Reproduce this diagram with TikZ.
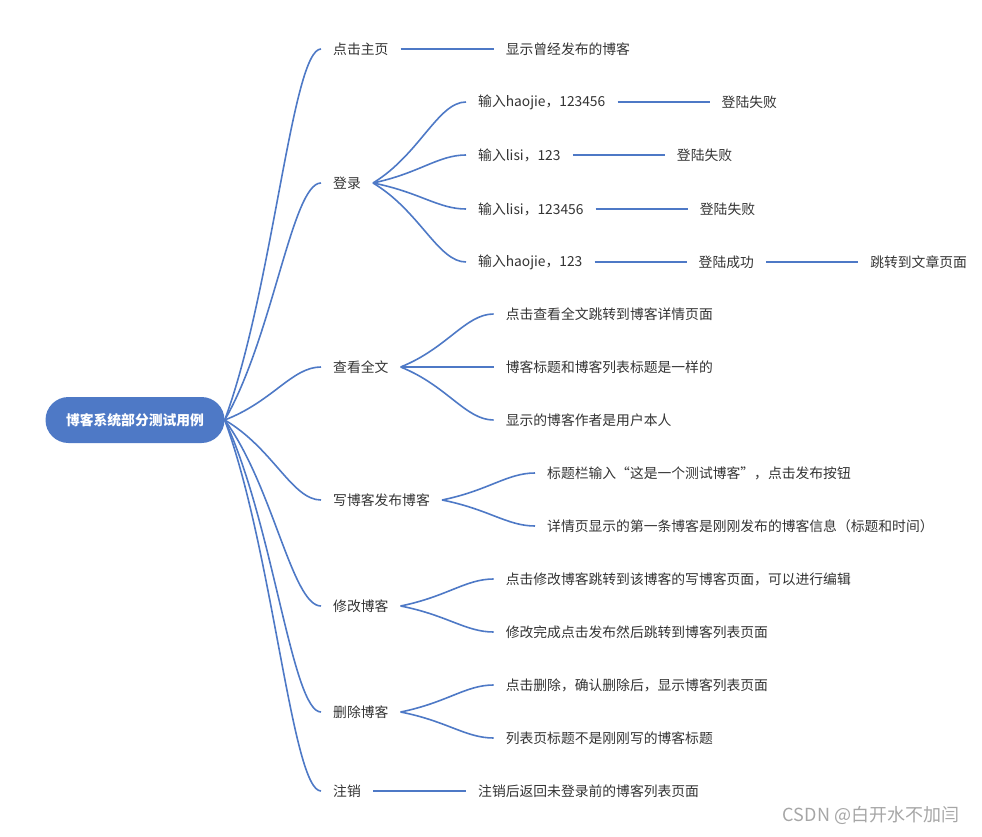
\documentclass[tikz,border=0pt]{standalone}
\usepackage{fontspec}
\setmainfont{Noto Sans CJK SC}
\usetikzlibrary{positioning,calc}
\definecolor{lanse}{HTML}{4E79C6}
\definecolor{wenzi}{HTML}{333333}
\tikzset{
  item/.style={anchor=west,inner xsep=12pt,inner ysep=3pt,text=wenzi,
               font=\fontsize{13.8}{16}\selectfont},
  zhuti/.style={fill=lanse,text=white,rounded corners=23pt,minimum width=179pt,
                minimum height=46pt,font=\fontsize{13.8}{16}\selectfont\bfseries},
  lian/.style={draw=lanse,line width=1.6pt},
  fenzhi/.style={to path={let \p1=(\tikztostart),\p2=(\tikztotarget) in
      .. controls ({0.5*\x1+0.5*\x2},{0.65*\y1+0.35*\y2})
         and ({0.3*\x1+0.7*\x2},\y2) .. (\tikztotarget)}}
}

\begin{document}
\begin{tikzpicture}[x=1pt,y=-1pt]
  \useasboundingbox (0,0) rectangle (982,837);
  \node[zhuti] (root) at (135,420) {博客系统部分测试用例};
  % first level
  \node[item] (zhuye)   at (321,49)  {点击主页};
  \node[item] (denglu)  at (321,183) {登录};
  \node[item] (quanwen) at (321,367) {查看全文};
  \node[item] (xieboke) at (321,500) {写博客发布博客};
  \node[item] (xiugai)  at (321,606) {修改博客};
  \node[item] (shanchu) at (321,712) {删除博客};
  \node[item] (zhuxiao) at (321,791) {注销};
  % second level
  \node[item,right=93pt of zhuye] (zhuyeA) {显示曾经发布的博客};
  \node[item,right=93pt of denglu,yshift=81pt]  (dlA) {输入haojie，123456};
  \node[item,right=93pt of denglu,yshift=28pt]  (dlB) {输入lisi，123};
  \node[item,right=93pt of denglu,yshift=-26pt] (dlC) {输入lisi，123456};
  \node[item,right=93pt of denglu,yshift=-79pt] (dlD) {输入haojie，123};
  \node[item,right=92pt of dlA] (dlA1) {登陆失败};
  \node[item,right=92pt of dlB] (dlB1) {登陆失败};
  \node[item,right=92pt of dlC] (dlC1) {登陆失败};
  \node[item,right=92pt of dlD] (dlD1) {登陆成功};
  \node[item,right=92pt of dlD1] (dlD2) {跳转到文章页面};
  \node[item,right=93pt of quanwen,yshift=53pt]  (qwA) {点击查看全文跳转到博客详情页面};
  \node[item,right=93pt of quanwen]              (qwB) {博客标题和博客列表标题是一样的};
  \node[item,right=93pt of quanwen,yshift=-53pt] (qwC) {显示的博客作者是用户本人};
  \node[item,right=93pt of xieboke,yshift=27pt]  (xbA) {标题栏输入“这是一个测试博客”，点击发布按钮};
  \node[item,right=93pt of xieboke,yshift=-26pt] (xbB) {详情页显示的第一条博客是刚刚发布的博客信息（标题和时间）};
  \node[item,right=93pt of xiugai,yshift=27pt]   (xgA) {点击修改博客跳转到该博客的写博客页面，可以进行编辑};
  \node[item,right=93pt of xiugai,yshift=-26pt]  (xgB) {修改完成点击发布然后跳转到博客列表页面};
  \node[item,right=93pt of shanchu,yshift=27pt]  (scA) {点击删除，确认删除后，显示博客列表页面};
  \node[item,right=93pt of shanchu,yshift=-26pt] (scB) {列表页标题不是刚刚写的博客标题};
  \node[item,right=93pt of zhuxiao] (zxA) {注销后返回未登录前的博客列表页面};
  \node[text=gray!70,font=\fontsize{18}{20}\selectfont] (shuiyin) at (871,815)
    {CSDN @白开水不加闫};
  % connectors
  \foreach \k in {zhuye,denglu,quanwen,xieboke,xiugai,shanchu,zhuxiao}
    \draw[lian] (root.east) to[fenzhi] (\k.west);
  \foreach \a/\b in {denglu/dlA,denglu/dlB,denglu/dlC,denglu/dlD,
                     quanwen/qwA,quanwen/qwB,quanwen/qwC,xieboke/xbA,xieboke/xbB,
                     xiugai/xgA,xiugai/xgB,shanchu/scA,shanchu/scB}
    \draw[lian] (\a.east) to[fenzhi] (\b.west);
  \foreach \a/\b in {zhuye/zhuyeA,dlA/dlA1,dlB/dlB1,dlC/dlC1,dlD/dlD1,dlD1/dlD2,zhuxiao/zxA}
    \draw[lian] (\a.east) -- (\b.west);
\end{tikzpicture}
\end{document}
